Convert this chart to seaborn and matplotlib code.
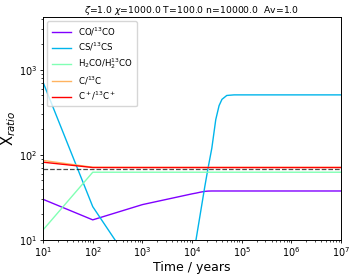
import numpy as np
import pandas as pd
import matplotlib
matplotlib.use("Agg")
import matplotlib.pyplot as plt
import seaborn as sns

# time grid (years) and isotopic ratios
time = [10, 100, 1e3, 1e4, 1.2e4, 1.5e4, 1.8e4, 2.1e4, 2.5e4, 3e4, 3.5e4, 4e4, 5e4, 7e4, 1e5, 1e6, 1e7]
co_ratio = [30, 17.2, 26, 34.8, 35.5, 36.5, 37.2, 37.5, 37.6, 37.6, 37.6, 37.6, 37.6, 37.6, 37.6, 37.6, 37.6]
cs_ratio = [714, 24.6, 3.3, 6, 10, 22, 42, 70, 120, 260, 380, 450, 500, 508, 508, 508, 508]
h2co_ratio = [13.1, 62.5, 62.5, 62.5, 62.5, 62.5, 62.5, 62.5, 62.5, 62.5, 62.5, 62.5, 62.5, 62.5, 62.5, 62.5, 62.5]
c_ratio = [86, 71.5, 71.2, 71.2, 71.2, 71.2, 71.2, 71.2, 71.2, 71.2, 71.2, 71.2, 71.2, 71.2, 71.2, 71.2, 71.2]
cplus_ratio = [82, 71, 71, 71, 71, 71, 71, 71, 71, 71, 71, 71, 71, 71, 71, 71, 71]
elemental_ratio = 69

labels = ["CO/$^{13}$CO", "CS/$^{13}$CS", "H$_2$CO/H$_2^{13}$CO", "C/$^{13}$C", "C$^+$/$^{13}$C$^+$"]
series = [co_ratio, cs_ratio, h2co_ratio, c_ratio, cplus_ratio]

df = pd.concat([pd.DataFrame({"time": time, "ratio": s, "species": lab})
                for s, lab in zip(series, labels)], ignore_index=True)

colors = [plt.cm.rainbow(v) for v in np.linspace(0, 1, 5)]

fig = plt.figure(figsize=(3.56, 2.77), dpi=100)
ax = fig.add_axes([0.121, 0.134, 0.837, 0.805])

sns.lineplot(data=df, x="time", y="ratio", hue="species", palette=colors,
             linewidth=1.0, ax=ax)
ax.axhline(elemental_ratio, color="k", ls="--", lw=0.9, alpha=0.7)

ax.set_xscale("log")
ax.set_yscale("log")
ax.set_xlim(10, 1e7)
ax.set_ylim(10, 4200)
ax.set_xlabel("Time / years", fontsize=9, labelpad=1)
ax.set_ylabel("X$_{ratio}$", fontsize=10.5)
ax.yaxis.set_label_coords(-0.083, 0.5)
ax.set_title(r"$\zeta$=1.0 $\chi$=1000.0 T=100.0 n=10000.0  Av=1.0", fontsize=6.7, pad=3)
ax.tick_params(which="major", labelsize=7, length=2.5, pad=1.5, width=0.6)
ax.tick_params(which="minor", length=1.5, width=0.5)
for s in ax.spines.values():
    s.set_linewidth(0.7)
ax.legend(loc="upper left", fontsize=6.2, handlelength=2.2, borderpad=0.5, labelspacing=0.35)

fig.savefig("out.png", dpi=100)
